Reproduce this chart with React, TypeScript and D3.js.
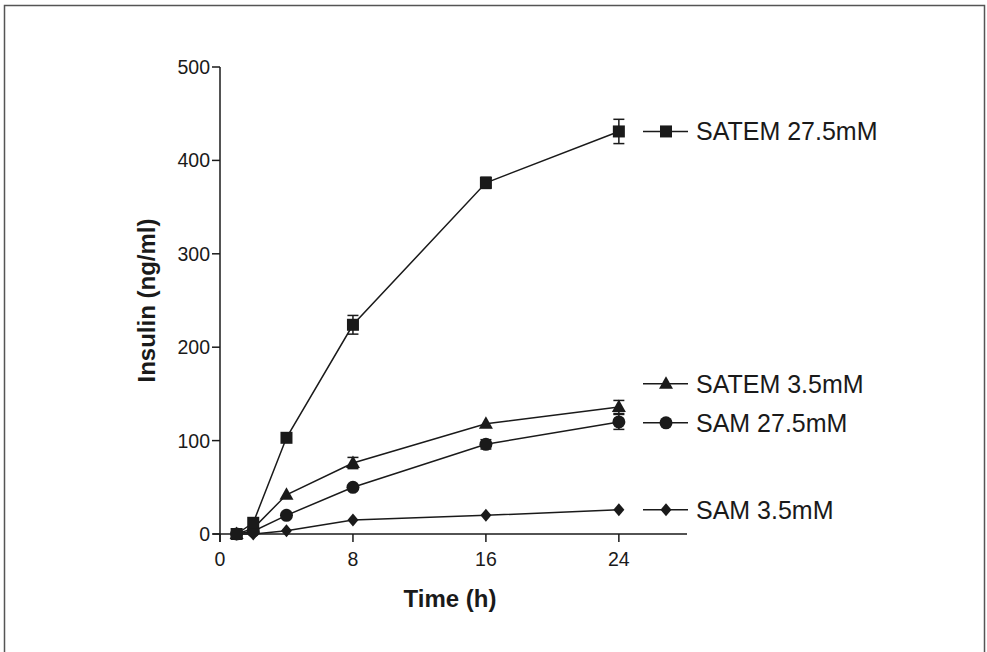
import React from "react";
import * as d3 from "d3";

const times = [1, 2, 4, 8, 16, 24];
const seriesNames = ["SAM 3.5mM", "SAM 27.5mM", "SATEM 3.5mM", "SATEM 27.5mM"];
const samLow = [0, 0, 3.5, 15, 20, 26];
const samLowErr = [0, 0, 0, 0, 0, 0];
const samHigh = [0, 3, 20, 50, 96, 120];
const samHighErr = [0, 0, 0, 0, 5, 8];
const satemLow = [0, 6, 42, 76, 118, 136];
const satemLowErr = [0, 0, 0, 6, 0, 7];
const satemHigh = [0, 12, 103, 224, 376, 431];
const satemHighErr = [0, 0, 0, 10, 6, 13];
const markers = ["diamond", "circle", "triangle", "square"];
const legendY = [26, 119, 161, 431];
const xTicks = [0, 8, 16, 24];
const yTicks = [0, 100, 200, 300, 400, 500];

const values = [samLow, samHigh, satemLow, satemHigh];
const errs = [samLowErr, samHighErr, satemLowErr, satemHighErr];

const FONT = "'Liberation Sans', Arial, sans-serif";

function Marker({ type, x, y }: { type: string; x: number; y: number }) {
  if (type === "square") return <rect x={x - 6} y={y - 6} width={12} height={12} fill="#1a1a1a" />;
  if (type === "circle") return <circle cx={x} cy={y} r={6.5} fill="#1a1a1a" />;
  if (type === "triangle")
    return <path d={`M${x},${y - 7.5}L${x + 7},${y + 5}L${x - 7},${y + 5}Z`} fill="#1a1a1a" />;
  return <path d={`M${x},${y - 6.5}L${x + 5.5},${y}L${x},${y + 6.5}L${x - 5.5},${y}Z`} fill="#1a1a1a" />;
}

export default function App() {
  const x = d3.scaleLinear().domain([0, 28.1]).range([220, 687]);
  const y = d3.scaleLinear().domain([0, 500]).range([534, 67]);
  const line = d3
    .line<number>()
    .x((_, i) => x(times[i]))
    .y((d) => y(d));
  const stroke = "#1a1a1a";
  return (
    <svg
      width={987}
      height={652}
      style={{ position: "absolute", left: 0, top: 0, background: "#fff" }}
    >
      <rect x={4.5} y={5.5} width={980} height={660} fill="none" stroke="#555" strokeWidth={1.5} />
      {/* axes */}
      <line x1={x(0)} x2={x(0)} y1={y(500)} y2={y(0) + 8} stroke={stroke} strokeWidth={1.5} />
      <line x1={x(0) - 7} x2={x(28.1)} y1={y(0)} y2={y(0)} stroke={stroke} strokeWidth={1.5} />
      {yTicks.map((t) => (
        <g key={t}>
          <line x1={x(0) - 8} x2={x(0)} y1={y(t)} y2={y(t)} stroke={stroke} strokeWidth={1.5} />
          <text x={x(0) - 10} y={y(t)} dy="0.36em" textAnchor="end" fontFamily={FONT} fontSize={19.5} fill="#1a1a1a">
            {t}
          </text>
        </g>
      ))}
      {xTicks.map((t) => (
        <g key={t}>
          <line x1={x(t)} x2={x(t)} y1={y(0)} y2={y(0) + 8} stroke={stroke} strokeWidth={1.5} />
          <text x={x(t)} y={y(0) + 32} textAnchor="middle" fontFamily={FONT} fontSize={19.5} fill="#1a1a1a">
            {t}
          </text>
        </g>
      ))}
      <text
        transform={`translate(155,${(y(0) + y(500)) / 2}) rotate(-90)`}
        textAnchor="middle"
        fontFamily={FONT}
        fontWeight="bold"
        fontSize={24}
        fill="#1a1a1a"
      >
        Insulin (ng/ml)
      </text>
      <text x={450} y={607} textAnchor="middle" fontFamily={FONT} fontWeight="bold" fontSize={24} fill="#1a1a1a">
        Time (h)
      </text>
      {/* series */}
      {values.map((vals, si) => (
        <g key={seriesNames[si]}>
          <path d={line(vals) || ""} fill="none" stroke={stroke} strokeWidth={1.5} />
          {vals.map((v, i) =>
            errs[si][i] > 0 ? (
              <g key={"e" + i}>
                <line x1={x(times[i])} x2={x(times[i])} y1={y(v + errs[si][i])} y2={y(v - errs[si][i])} stroke={stroke} strokeWidth={1.5} />
                <line x1={x(times[i]) - 5.5} x2={x(times[i]) + 5.5} y1={y(v + errs[si][i])} y2={y(v + errs[si][i])} stroke={stroke} strokeWidth={1.5} />
                <line x1={x(times[i]) - 5.5} x2={x(times[i]) + 5.5} y1={y(v - errs[si][i])} y2={y(v - errs[si][i])} stroke={stroke} strokeWidth={1.5} />
              </g>
            ) : null
          )}
          {vals.map((v, i) => (
            <Marker key={i} type={markers[si]} x={x(times[i])} y={y(v)} />
          ))}
          <line x1={643} x2={688} y1={y(legendY[si])} y2={y(legendY[si])} stroke={stroke} strokeWidth={1.5} />
          <Marker type={markers[si]} x={666} y={y(legendY[si])} />
          <text x={696} y={y(legendY[si])} dy="0.36em" fontFamily={FONT} fontSize={25} fill="#1a1a1a">
            {seriesNames[si]}
          </text>
        </g>
      ))}
    </svg>
  );
}
